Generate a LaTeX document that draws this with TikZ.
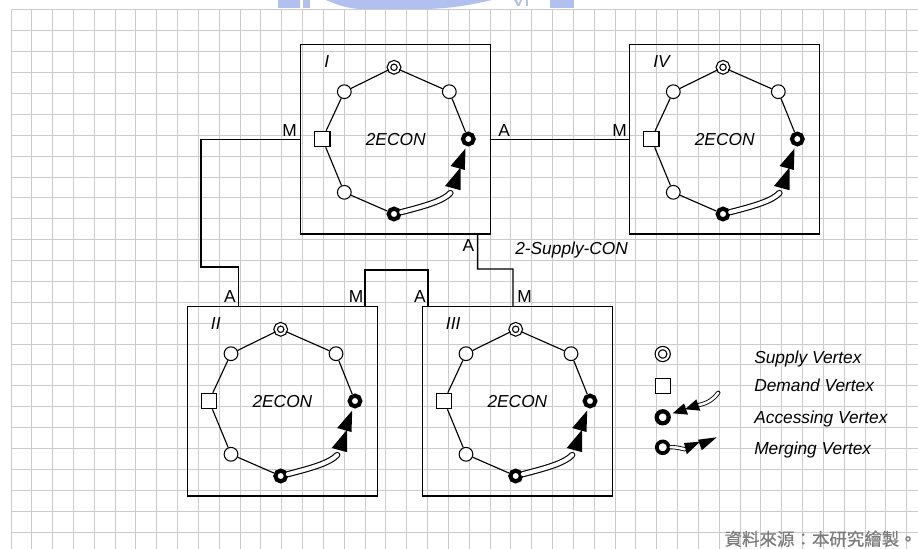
\documentclass[tikz,border=0pt]{standalone}
\usepackage{fontspec}
\setmainfont{Liberation Sans}
\newfontfamily\cjk[FakeBold=0.6]{Noto Sans CJK TC}
\usetikzlibrary{calc}
\newcommand\myfs{\fontsize{13pt}{15pt}\selectfont}
\definecolor{wmblue}{RGB}{178,192,240}
\definecolor{srcgray}{RGB}{125,125,125}
\tikzset{
 gridl/.style={draw=black!20, line width=0.75pt},
 boxshape/.style={draw, line width=1.05pt, minimum width=142.5pt, minimum height=142.1pt, inner sep=0pt},
 conn/.style={line width=1.1pt},
 edge/.style={line width=0.85pt},
 plainv/.style={circle, draw, fill=white, line width=0.8pt, minimum size=10.3pt, inner sep=0pt},
 supplyv/.style={circle, draw, fill=white, double=white, line width=0.9pt, double distance=1.6pt, minimum size=7.6pt, inner sep=0pt},
 demandv/.style={rectangle, draw, fill=white, line width=0.85pt, minimum size=11.6pt, inner sep=0pt},
 accessv/.style={circle, draw, fill=white, line width=3.1pt, minimum size=8pt, inner sep=0pt},
 mergev/.style={circle, draw, fill=white, line width=3.1pt, minimum size=8pt, inner sep=0pt},
 lsupplyv/.style={circle, draw, fill=white, double=white, line width=0.9pt, double distance=1.6pt, minimum size=8.8pt, inner sep=0pt},
 ldemandv/.style={rectangle, draw, fill=white, line width=0.85pt, minimum size=11.2pt, inner sep=0pt},
 laccessv/.style={circle, draw, fill=white, line width=3.2pt, minimum size=9pt, inner sep=0pt},
 lmergev/.style={circle, draw, fill=white, line width=2.8pt, minimum size=8.8pt, inner sep=0pt},
 dline/.style={draw, double=white, line width=0.85pt, double distance=3pt, line cap=round},
 ldline/.style={draw, double=white, line width=0.65pt, double distance=1.9pt, line cap=round},
 econ/.style={font=\myfs\itshape, inner sep=0pt},
 boxlbl/.style={font=\myfs\itshape, inner sep=0pt, anchor=base west},
 portlbl/.style={font=\myfs, inner sep=0pt},
 legtxt/.style={font=\myfs\itshape, inner sep=0pt, anchor=base west},
}
\newcommand{\ecbox}[4]{%
 \begin{scope}[shift={(#2,#3)}]
  \node[boxshape, anchor=north west] (#1) at (0,0) {};
  \node[boxlbl] (#1lab) at (24,23.3) {#4};
  \node[econ] (#1t) at (95.7,96) {2ECON};
  \node[supplyv] (#1s) at (94,23.3) {};
  \node[plainv] (#1ul) at (44.3,47.7) {};
  \node[plainv] (#1ur) at (149.3,47.7) {};
  \node[demandv] (#1d) at (22.3,95) {};
  \node[accessv] (#1r) at (168.3,95) {};
  \node[plainv] (#1ll) at (44.3,148.3) {};
  \node[mergev] (#1b) at (94,170) {};
  \coordinate (#1ce) at (150.5,149);
  \draw[edge] (#1s) -- (#1ul) -- (#1d) -- (#1ll) -- (#1b);
  \draw[edge] (#1s) -- (#1ur) -- (#1r);
  \draw[dline] (#1b) .. controls (125,162) and (143,157) .. (#1ce);
  \fill (165.5,104.5) -- (150.5,122) -- (164.8,126) -- cycle;
  \fill (160.5,123.5) -- (145,142) -- (160.5,146.2) -- cycle;
 \end{scope}}
\begin{document}
\begin{tikzpicture}[x=0.75pt,y=-0.75pt]
\useasboundingbox (0,0) rectangle (918,549);
\fill[white] (0,0) rectangle (918,549);
% watermark remnant
\fill[wmblue] (278,0) rectangle (300,8);
\fill[wmblue] (303,0) rectangle (310,8);
\fill[wmblue] (326,0) -- (492,0) .. controls (470,5) and (450,9) .. (420,9) -- (360,9) .. controls (345,8) and (335,4) .. cycle;
\fill[wmblue] (514,0) -- (517,0) -- (518.5,4) -- (520,0) -- (522,0) -- (519.5,6) -- (517.5,6) -- cycle;
\fill[wmblue] (526,0) rectangle (528,6);
\fill[wmblue] (550,0) rectangle (574,8);
% grid
\foreach \i in {0,...,43} \draw[gridl] ({11+20.83*\i},10) -- ({11+20.83*\i},549);
\foreach \j in {0,...,25} \draw[gridl] (11,{10+20.88*\j}) -- (918,{10+20.88*\j});
% boxes
\ecbox{I}{300}{44}{I}
\ecbox{IV}{629}{44}{IV}
\ecbox{II}{186.7}{306}{II}
\ecbox{III}{421.7}{306}{III}
% connectors
\coordinate (k1) at (201,267);
\coordinate (pII) at ($(II.north west)+(51.6,0)$);
\draw[conn] (I.west) -| (k1) -| (pII);
\draw[conn] (I.east) -- (IV.west);
\coordinate (pIb) at ($(I.south west)+(177.7,0)$);
\coordinate (pIIIb) at ($(III.north west)+(91.3,0)$);
\coordinate (k2) at (513,269);
\draw[conn] (pIb) |- (k2) -- (pIIIb);
\coordinate (pIIr) at ($(II.north west)+(178.3,0)$);
\coordinate (pIIIa) at ($(III.north west)+(6.3,0)$);
\coordinate (k3) at (396,270);
\draw[conn] (pIIr) |- (k3) -| (pIIIa);
% port labels
\node[portlbl, anchor=base east] (m1) at (297,136.7) {M};
\node[portlbl, anchor=base west] (a1) at (498,136.7) {A};
\node[portlbl, anchor=base east] (m4) at (627,136.7) {M};
\node[portlbl, anchor=base east] (a1b) at (474.5,251.7) {A};
\node[portlbl, anchor=base east] (a2) at (236,302.3) {A};
\node[portlbl, anchor=base east] (m2) at (363.5,302.3) {M};
\node[portlbl, anchor=base east] (a3) at (426,302.3) {A};
\node[portlbl, anchor=base west] (m3) at (517,302.3) {M};
\node[legtxt] (scon) at (515,254) {2-Supply-CON};
% legend
\node[lsupplyv] (ls) at (662.7,354) {};
\node[ldemandv] (ld) at (662.7,386) {};
\node[laccessv] (la) at (662.7,417.3) {};
\node[lmergev] (lm) at (662.7,447.3) {};
\coordinate (lae) at (718.3,392.7);
\draw[ldline] (lae) .. controls (714,399) and (708,403) .. (699,405);
\fill (672.7,413.3) -- (688,414.6) -- (684,403.4) -- cycle;
\fill (685,409.3) -- (700.3,410.6) -- (696.3,399.4) -- cycle;
\coordinate (lme) at (685,449.3);
\draw[ldline] (lm) .. controls (676,447) and (681,448.5) .. (lme);
\fill (700,441.7) -- (684,443) -- (686.8,454.3) -- cycle;
\fill (716.7,437.3) -- (698,439.7) -- (701.8,450.3) -- cycle;
\node[legtxt] (t1) at (754,363) {Supply Vertex};
\node[legtxt] (t2) at (754,391.7) {Demand Vertex};
\node[legtxt] (t3) at (754,423.3) {Accessing Vertex};
\node[legtxt] (t4) at (754,454) {Merging Vertex};
% source
\node[font=\cjk\fontsize{13.1pt}{15pt}\selectfont, text=srcgray, inner sep=0pt, anchor=base east] (src) at (917,545.5) {資料來源：本研究繪製。};
\end{tikzpicture}
\end{document}
